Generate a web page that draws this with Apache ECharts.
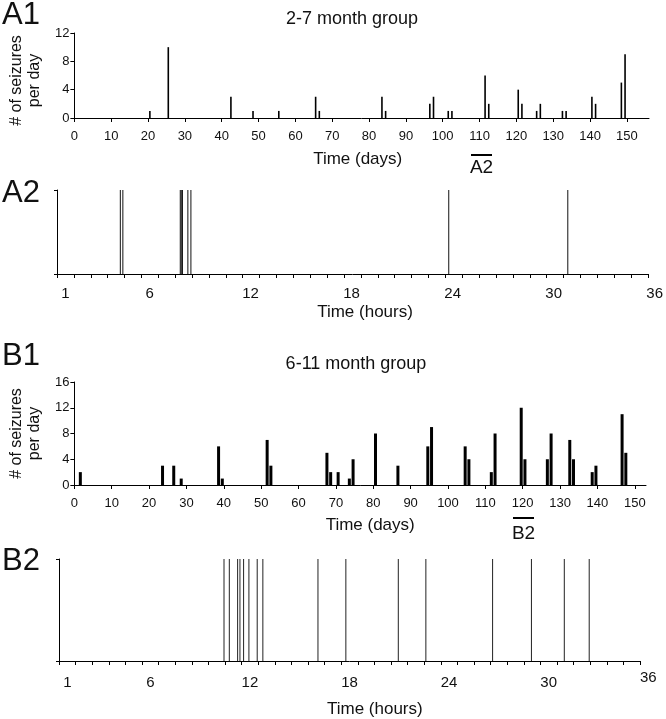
<!DOCTYPE html>
<html><head><meta charset="utf-8">
<script src="https://cdn.jsdelivr.net/npm/echarts@6/dist/echarts.min.js"></script>
<style>html,body{margin:0;padding:0;background:#fff}#c{width:666px;height:719px}</style>
</head><body><div id="c"></div>
<script>
// ---- data ----
const a1Days   = [20,25,42,48,55,65,66,83,84,96,97,101,102,111,112,120,121,125,126,132,133,140,141,148,149];
const a1Counts = [1,10,3,1,1,3,1,3,1,2,3,1,1,6,2,4,2,1,2,1,1,3,2,5,9];
const b1Days   = [1,23,26,28,38,39,51,52,67,68,70,73,74,80,86,94,95,104,105,111,112,119,120,126,127,132,133,138,139,146,147];
const b1Counts = [2,3,3,1,6,1,7,3,5,2,2,1,4,8,3,6,9,6,4,2,8,12,4,4,8,7,4,2,3,11,5];
const a2Hours  = [3.75,3.9,7.3,7.36,7.43,7.75,7.93,23.2,30.25];
const b2Hours  = [9.94,10.26,10.76,10.9,11.12,11.44,11.94,12.28,15.6,17.28,20.44,22.1,26.12,28.46,30.44,31.94];
const hourLabels = [1,6,12,18,24,30,36];
const titles = ['2-7 month group','6-11 month group'];
const panelLabels = ['A1','A2','B1','B2'];
const yName = '# of seizures\nper day';
const dayName = 'Time (days)';
const hourName = 'Time (hours)';

const FF = '"Liberation Sans", Arial, sans-serif';
const BLACK = '#000';
const axisLine = {show:true, lineStyle:{color:BLACK, width:1}};

const chart = echarts.init(document.getElementById('c'), null, {renderer:'canvas'});

function dayAxis(grid, max, nameGap, namePad){
  return {type:'value', gridIndex:grid, min:0, max:max, interval:10,
    axisLine:axisLine, axisTick:{show:true, length:4, lineStyle:{color:BLACK}},
    axisLabel:{show:true, margin:12, fontSize:13, color:'#111', fontFamily:FF, showMaxLabel:false},
    splitLine:{show:false},
    name:dayName, nameLocation:'middle', nameGap:nameGap,
    nameTextStyle:{fontSize:17, color:'#111', fontFamily:FF, padding:namePad}};
}
function countAxis(grid, max, nameGap, namePad){
  return {type:'value', gridIndex:grid, min:0, max:max, interval:4,
    axisLine:axisLine, axisTick:{show:true, length:4, lineStyle:{color:BLACK}},
    axisLabel:{show:true, margin:5, fontSize:13, color:'#111', fontFamily:FF},
    splitLine:{show:false},
    name:yName, nameLocation:'middle', nameGap:nameGap, nameRotate:90,
    nameTextStyle:{fontSize:16, lineHeight:18, color:'#111', fontFamily:FF, padding:namePad}};
}
function hourAxis(grid){
  return {type:'value', gridIndex:grid, min:0, max:35, interval:1,
    axisLine:axisLine, axisTick:{show:true, length:4, lineStyle:{color:BLACK}},
    axisLabel:{show:false}, splitLine:{show:false}};
}
function hourLabelAxis(grid, nameGap, namePad, margin, lift36){
  return {type:'value', gridIndex:grid, min:0, max:36,
    axisLine:{show:false}, axisTick:{show:false}, splitLine:{show:false},
    axisLabel:{show:true, margin:margin, fontSize:15, color:'#111', fontFamily:FF,
      customValues: hourLabels.map(h => h - 0.5),
      formatter: v => { const h = Math.round(v + 0.5); return (lift36 && h === 36) ? '{hi|' + h + '}' : '{n|' + h + '}'; },
      rich:{n:{fontSize:15, fontFamily:FF, color:'#111', padding:[lift36?5:0,0,0,0]},
            hi:{fontSize:15, fontFamily:FF, color:'#111'}}},
    name:hourName, nameLocation:'middle', nameGap:nameGap,
    nameTextStyle:{fontSize:17, color:'#111', fontFamily:FF, padding:namePad}};
}
function flatAxis(grid){
  return {type:'value', gridIndex:grid, min:0, max:1, interval:1,
    axisLine:axisLine, axisTick:{show:true, length:3, lineStyle:{color:BLACK}},
    axisLabel:{show:false}, splitLine:{show:false}};
}

const A2W = 591, B2W = 581;
const option = {
  animation:false,
  backgroundColor:'#fff',
  title:[
    {text:titles[0], left:352, top:10, textAlign:'center', padding:0, textStyle:{fontSize:18, fontWeight:'normal', color:'#111', fontFamily:FF}},
    {text:titles[1], left:356, top:355, textAlign:'center', padding:0, textStyle:{fontSize:18, fontWeight:'normal', color:'#111', fontFamily:FF}},
    {text:panelLabels[0], left:2, top:0, padding:0, textStyle:{fontSize:31, fontWeight:'normal', color:'#111', fontFamily:FF}},
    {text:panelLabels[1], left:2, top:178, padding:0, textStyle:{fontSize:31, fontWeight:'normal', color:'#111', fontFamily:FF}},
    {text:panelLabels[2], left:2, top:341, padding:0, textStyle:{fontSize:31, fontWeight:'normal', color:'#111', fontFamily:FF}},
    {text:panelLabels[3], left:2, top:546, padding:0, textStyle:{fontSize:31, fontWeight:'normal', color:'#111', fontFamily:FF}}
  ],
  grid:[
    {left:59, top:33, width:590, height:85},
    {left:57, top:190, width:A2W, height:84},
    {left:61, top:382, width:585, height:103},
    {left:59, top:559, width:B2W, height:102},
    {left:57, top:190, width:A2W*36/35, height:84},
    {left:59, top:559, width:B2W*36/35, height:102}
  ],
  xAxis:[
    dayAxis(0, 156, 33, [0,8,0,0]),
    hourAxis(1),
    dayAxis(2, 153, 32, [0,0,0,20]),
    hourAxis(3),
    hourLabelAxis(4, 30, [0,0,0,10], 12, false),
    hourLabelAxis(5, 40, [0,0,0,34], 9, true)
  ],
  yAxis:[
    countAxis(0, 12, 22, [0,10,0,0]),
    flatAxis(1),
    countAxis(2, 16, 24, [0,0,0,0]),
    flatAxis(3),
    {type:'value', gridIndex:4, show:false, min:0, max:1},
    {type:'value', gridIndex:5, show:false, min:0, max:1}
  ],
  series:[
    {type:'bar', xAxisIndex:0, yAxisIndex:0, barWidth:1.6, silent:true,
      itemStyle:{color:BLACK}, data:a1Days.map((d,i)=>[d+0.5, a1Counts[i]])},
    {type:'bar', xAxisIndex:1, yAxisIndex:1, barWidth:1, silent:true,
      itemStyle:{color:'#111'}, data:a2Hours.map(h=>[h,1])},
    {type:'bar', xAxisIndex:2, yAxisIndex:2, barWidth:3, silent:true,
      itemStyle:{color:BLACK}, data:b1Days.map((d,i)=>[d+0.6, b1Counts[i]])},
    {type:'bar', xAxisIndex:3, yAxisIndex:3, barWidth:1, silent:true,
      itemStyle:{color:'#222'}, data:b2Hours.map(h=>[h,1])}
  ],
  graphic:[
    {type:'line', shape:{x1:471, y1:155, x2:492, y2:155}, style:{stroke:BLACK, lineWidth:2}, silent:true},
    {type:'text', x:481.5, y:168, style:{text:panelLabels[1], fontSize:19, fontFamily:FF, fill:'#111', align:'center', verticalAlign:'middle'}, silent:true},
    {type:'line', shape:{x1:513, y1:518, x2:534, y2:518}, style:{stroke:BLACK, lineWidth:2}, silent:true},
    {type:'text', x:523.5, y:534, style:{text:panelLabels[3], fontSize:19, fontFamily:FF, fill:'#111', align:'center', verticalAlign:'middle'}, silent:true}
  ]
};
chart.setOption(option);
</script>
</body></html>
